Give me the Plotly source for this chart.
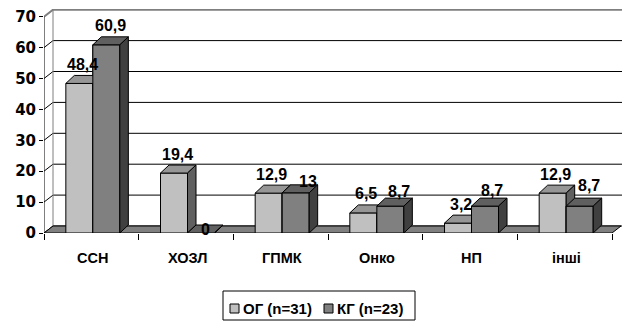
import numpy as np
import plotly.graph_objects as go

# ---- data -------------------------------------------------------------
categories = ["ССН", "ХОЗЛ", "ГПМК", "Онко", "НП", "інші"]
og_values = [48.4, 19.4, 12.9, 6.5, 3.2, 12.9]
kg_values = [60.9, 0, 13, 8.7, 8.7, 8.7]
og_name = "ОГ (n=31)"
kg_name = "КГ (n=23)"
y_ticks = [0, 10, 20, 30, 40, 50, 60, 70]

# ---- geometry (pixel based, converted to axis units) -------------------
W, H = 622, 325
L, T = 44, 9            # plot-area origin
PW, PH = 578, 224       # plot-area size
CAT_PX = 94.67          # pixels per category
Y_PX = 3.09             # pixels per y unit

def ux(px):
    return px / CAT_PX

def uy(px):
    return px / Y_PX

x_lo = -0.5
x_hi = x_lo + PW / CAT_PX
y_hi = PH / Y_PX
n_cat = len(categories)

floor_dx, floor_dy = ux(9), uy(7)
bar_dx, bar_dy = ux(8.5), uy(8)
bar_w = ux(27)
depth_shift = ux(1.5)

FONT = "Liberation Sans"
col_og = dict(front="#c0c0c0", top="#969696", side="#606060")
col_kg = dict(front="#808080", top="#606060", side="#404040")

idx = np.arange(n_cat)
x_og = idx - bar_w / 2 + depth_shift
x_kg = idx + bar_w / 2 + depth_shift


def faces(xc, vals):
    """Build top / side / front polygons (None-separated) for a row of boxes."""
    top_x, top_y, side_x, side_y, fr_x, fr_y = [], [], [], [], [], []
    for c, v in zip(xc, vals):
        a, b = c - bar_w / 2, c + bar_w / 2
        top_x += [a, b, b + bar_dx, a + bar_dx, a, None]
        top_y += [v, v, v + bar_dy, v + bar_dy, v, None]
        side_x += [b, b, b + bar_dx, b + bar_dx, b, None]
        side_y += [0, v, v + bar_dy, bar_dy, 0, None]
        fr_x += [a, b, b, a, a, None]
        fr_y += [0, 0, v, v, 0, None]
    return (top_x, top_y), (side_x, side_y), (fr_x, fr_y)


fig = go.Figure()

# front faces as real bars
fig.add_trace(go.Bar(x=x_og, y=og_values, width=bar_w, name=og_name,
                     marker=dict(color=col_og["front"], line=dict(color="black", width=1)),
                     showlegend=False, hoverinfo="skip"))
fig.add_trace(go.Bar(x=x_kg, y=kg_values, width=bar_w, name=kg_name,
                     marker=dict(color=col_kg["front"], line=dict(color="black", width=1)),
                     showlegend=False, hoverinfo="skip"))


def poly(xy, color):
    fig.add_trace(go.Scatter(x=xy[0], y=xy[1], mode="lines", fill="toself",
                             fillcolor=color, line=dict(color="black", width=1),
                             showlegend=False, hoverinfo="skip"))


og_top, og_side, _ = faces(x_og, og_values)
kg_top, kg_side, kg_front = faces(x_kg, kg_values)
poly(og_top, col_og["top"])
poly(og_side, col_og["side"])
poly(kg_front, col_kg["front"])   # second series sits in front of the first one's side
poly(kg_top, col_kg["top"])
poly(kg_side, col_kg["side"])

# ---- walls, grid and floor --------------------------------------------
shapes = []
for v in y_ticks:
    top = v == y_ticks[-1]
    shapes.append(dict(
        type="path", xref="x", yref="y", layer="below",
        path=f"M{x_lo},{v} L{x_lo + floor_dx},{v + floor_dy} L{x_hi},{v + floor_dy}",
        line=dict(color="#7f7f7f" if top else "black", width=2 if top else 1)))
shapes.append(dict(type="line", xref="x", yref="y", layer="below",
                   x0=x_lo + floor_dx, x1=x_lo + floor_dx, y0=floor_dy, y1=y_ticks[-1] + floor_dy,
                   line=dict(color="#7f7f7f", width=1)))
shapes.append(dict(type="line", xref="x", yref="y", layer="below",
                   x0=x_lo, x1=x_lo, y0=0, y1=y_ticks[-1],
                   line=dict(color="black", width=1)))
x_end = x_lo + n_cat
shapes.append(dict(
    type="path", xref="x", yref="y", layer="below",
    path=f"M{x_lo},0 L{x_end},0 L{x_end + floor_dx},{floor_dy} L{x_lo + floor_dx},{floor_dy} Z",
    fillcolor="#808080", line=dict(color="black", width=1)))

# ---- data labels --------------------------------------------------------
ann = []
label_font = dict(family=FONT, size=16, color="black", weight="bold")
kg_nudge = [(0, 0), (0, 15), (8, 8), (5, 4), (3, 3), (5, -2)]


def fmt(v):
    return f"{v:g}".replace(".", ",")


for i in range(n_cat):
    ann.append(dict(x=x_og[i], y=og_values[i], xref="x", yref="y", text=fmt(og_values[i]),
                    showarrow=False, xanchor="center", yanchor="middle",
                    xshift=3, yshift=19, font=label_font))
    nx, ny = kg_nudge[i]
    ann.append(dict(x=x_kg[i], y=kg_values[i], xref="x", yref="y", text=fmt(kg_values[i]),
                    showarrow=False, xanchor="center", yanchor="middle",
                    xshift=4 + nx, yshift=19 - ny, font=label_font))

# category names under the floor
for i, c in enumerate(categories):
    ann.append(dict(x=i + depth_shift, y=0, xref="x", yref="y", text=c, showarrow=False,
                    xanchor="center", yanchor="middle", yshift=-25,
                    font=dict(family=FONT, size=14.5, color="black", weight="bold")))

# ---- legend box ------------------------------------------------------------
def px(xp):
    return (xp - L) / PW

def py(yp):
    return (T + PH - yp) / PH

shapes.append(dict(type="rect", xref="paper", yref="paper",
                   x0=px(223), x1=px(415), y0=py(320), y1=py(291),
                   line=dict(color="black", width=1), fillcolor="white"))
leg_items = [(og_name, col_og["front"], 230, 241), (kg_name, col_kg["front"], 324, 335)]
for name, color, sx, tx in leg_items:
    shapes.append(dict(type="rect", xref="paper", yref="paper",
                       x0=px(sx), x1=px(sx + 9), y0=py(313), y1=py(304),
                       line=dict(color="black", width=1), fillcolor=color))
    ann.append(dict(x=px(tx), y=py(308.5), xref="paper", yref="paper", text=name,
                    showarrow=False, xanchor="left", yanchor="middle",
                    font=dict(family=FONT, size=15, color="black", weight="bold")))

fig.update_layout(
    width=W, height=H,
    margin=dict(l=L, r=W - L - PW, t=T, b=H - T - PH, pad=0),
    paper_bgcolor="white", plot_bgcolor="white",
    barmode="overlay", showlegend=False,
    shapes=shapes, annotations=ann,
    xaxis=dict(range=[x_lo, x_hi], showgrid=False, zeroline=False, showline=False,
               tickvals=[x_lo + k for k in range(n_cat + 1)], ticks="outside", ticklen=6,
               tickcolor="black", showticklabels=False, fixedrange=True),
    yaxis=dict(range=[0, y_hi], showgrid=False, zeroline=False, showline=False,
               tickvals=y_ticks, ticks="outside", ticklen=4, tickcolor="black",
               tickfont=dict(family="DejaVu Sans", size=15, color="black", weight="bold"),
               fixedrange=True),
)

fig.write_html("out.html")
